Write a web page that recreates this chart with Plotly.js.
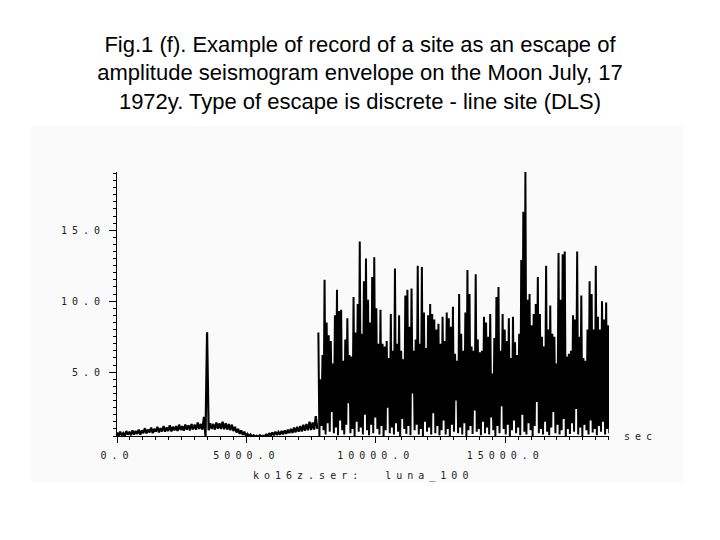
<!DOCTYPE html>
<html>
<head>
<meta charset="utf-8">
<script src="https://cdn.plot.ly/plotly-3.0.1.min.js"></script>
<style>
  html, body { margin: 0; padding: 0; background: #ffffff; }
  #chart { width: 720px; height: 540px; }
  .xtick text, .ytick text, .annotation-text { letter-spacing: 5px; }
</style>
</head>
<body>
<div id="chart"></div>
<script>
// ---- title ----
const titleLines = [
  "Fig.1 (f). Example of record of a site as an escape of",
  "amplitude seismogram envelope on the Moon July, 17",
  "1972y. Type of escape is discrete - line site (DLS)"
];

// ---- axis ticks ----
const xTickVals = [0, 5000, 10000, 15000];
const xTickText = ["0.0", "5000.0", "10000.0", "15000.0"];
const yTickVals = [5, 10, 15];
const yTickText = ["5.0", "10.0", "15.0"];
const xUnitLabel = "sec";
const fileLabel = "ko16z.ser:\u00a0 luna_100";

// ---- quiet part of the record (0 .. ~7700 s), sampled every 60 s,
//      alternating upper / lower edge of the noise band ----
const quietStart = 0;
const quietStep = 60;
const quietHigh = [
  0.75, 0.8, 0.7, 0.85, 0.8, 0.9, 0.85, 0.95, 0.9, 1.05,
  0.95, 1.1, 1.0, 1.15, 1.05, 1.2, 1.1, 1.25, 1.15, 1.2,
  1.3, 1.2, 1.3, 1.25, 1.35, 1.3, 1.45, 1.35, 1.85, 7.8,
  1.4, 1.35, 1.45, 1.4, 1.5, 1.4, 1.35, 1.3, 1.15, 1.0,
  0.9, 0.8, 0.65, 0.6, 0.55, 0.52, 0.55, 0.52, 0.6, 0.7,
  0.75, 0.8, 0.78, 0.85, 0.9, 0.95, 1.0, 1.1, 1.15, 1.2,
  1.3, 1.35, 1.5, 1.45, 1.9
];
const quietLow = [
  0.5, 0.55, 0.5, 0.6, 0.55, 0.6, 0.65, 0.6, 0.7, 0.68,
  0.75, 0.7, 0.8, 0.75, 0.82, 0.8, 0.85, 0.82, 0.9, 0.85,
  0.92, 0.88, 0.95, 0.9, 0.97, 0.95, 1.0, 0.95, 0.5, 0.9,
  1.0, 0.95, 1.02, 1.0, 0.97, 0.95, 0.9, 0.85, 0.75, 0.65,
  0.58, 0.5, 0.47, 0.46, 0.46, 0.45, 0.46, 0.47, 0.5, 0.52,
  0.55, 0.58, 0.6, 0.62, 0.65, 0.7, 0.72, 0.76, 0.8, 0.82,
  0.87, 0.9, 0.92, 0.95, 1.0
];

// ---- active (discrete line) part, from ~7780 s, sampled every 40 s,
//      alternating peak / trough ----
const activeStart = 7780;
const activeStep = 40;
const activeHigh = [
  7.8, 4.5, 6.2, 11.5, 8.5, 7.6, 7.2, 5.6, 9.0, 10.8,
  9.3, 9.4, 5.8, 7.3, 8.8, 6.2, 6.1, 10.3, 7.8, 9.8,
  14.2, 7.7, 11.4, 13.0, 10.1, 8.5, 11.7, 13.1, 9.5, 7.0,
  9.4, 7.0, 6.8, 7.2, 6.0, 9.1, 6.5, 12.3, 7.0, 9.0,
  6.5, 5.9, 10.4, 10.8, 8.2, 10.9, 6.5, 7.3, 12.5, 7.0,
  12.4, 9.2, 6.7, 9.0, 9.8, 9.1, 8.7, 8.0, 8.4, 7.0,
  8.9, 7.2, 9.2, 8.8, 8.2, 9.6, 6.3, 5.8, 10.5, 7.7,
  6.5, 9.2, 12.2, 10.5, 6.8, 6.5, 11.9, 7.3, 6.4, 6.5,
  8.9, 8.5, 7.5, 9.1, 4.9, 7.4, 10.3, 11.0, 6.5, 9.1,
  8.0, 7.2, 8.8, 6.0, 8.9, 7.1, 6.2, 7.7, 12.9, 16.3,
  19.1, 10.1, 10.5, 8.3, 9.1, 9.8, 11.7, 9.1, 7.5, 6.8,
  12.5, 8.0, 9.7, 7.7, 7.5, 5.6, 13.4, 10.1, 13.3, 13.5,
  6.1, 6.3, 6.5, 9.0, 8.7, 13.5, 7.5, 10.4, 6.0, 5.8,
  8.0, 11.4, 10.5, 8.0, 12.5, 8.9, 8.0, 10.0, 8.7, 9.9,
  8.3
];
const activeLow = [
  0.5, 1.2, 0.9, 0.6, 1.4, 0.8, 2.2, 0.7, 1.1, 0.55,
  1.6, 0.9, 0.6, 1.3, 2.8, 0.7, 1.0, 0.5, 1.5, 0.8,
  1.1, 0.6, 2.0, 0.9, 0.55, 1.3, 0.7, 1.8, 1.0, 0.6,
  1.2, 0.5, 0.9, 2.5, 0.7, 1.1, 0.6, 1.4, 0.8, 0.5,
  1.7, 1.0, 0.65, 1.2, 0.55, 3.5, 0.9, 1.3, 0.6, 1.0,
  0.5, 1.5, 0.8, 1.1, 0.6, 2.1, 0.7, 1.2, 0.55, 0.9,
  1.6, 0.6, 1.0, 0.5, 1.3, 0.8, 3.0, 0.7, 1.1, 0.6,
  1.4, 0.5, 0.9, 1.2, 0.65, 2.3, 0.8, 1.0, 0.55, 1.5,
  0.7, 1.1, 0.6, 1.8, 0.9, 0.5, 1.2, 0.7, 2.6, 1.0,
  0.6, 1.3, 0.5, 0.9, 1.6, 0.7, 1.1, 0.55, 2.0, 0.8,
  0.6, 1.4, 0.9, 0.5, 1.2, 2.9, 0.7, 1.0, 0.6, 1.5,
  0.8, 0.55, 1.1, 2.2, 0.7, 1.3, 0.6, 0.9, 1.7, 0.5,
  1.0, 0.65, 1.4, 0.8, 2.4, 0.6, 1.1, 0.5, 1.3, 0.9,
  0.6, 1.6, 0.75, 1.0, 0.55, 1.2, 0.8, 1.5, 0.6, 1.0,
  0.7
];

// build the plotted sequences by interleaving upper / lower edges
function interleave(hi, lo) {
  const out = [];
  const n = Math.min(hi.length, lo.length);
  for (let i = 0; i < n; i++) { out.push(hi[i]); out.push(lo[i]); }
  return out;
}

const traces = [
  {
    type: "scatter", mode: "lines",
    y: interleave(quietHigh, quietLow), x0: quietStart, dx: quietStep,
    line: { color: "#000000", width: 2.2 }, hoverinfo: "skip"
  },
  {
    type: "scatter", mode: "lines",
    y: interleave(activeHigh, activeLow), x0: activeStart, dx: activeStep,
    line: { color: "#000000", width: 2 }, hoverinfo: "skip"
  }
];

const tickFont = { family: "DejaVu Sans Mono", size: 10, color: "#222222" };

const layout = {
  width: 720, height: 540,
  margin: { l: 117, r: 111, t: 172, b: 104, pad: 0 },
  paper_bgcolor: "#ffffff",
  plot_bgcolor: "rgba(0,0,0,0)",
  showlegend: false,
  title: {
    text: titleLines.join("<br>"),
    font: { family: "Liberation Sans, Arial, sans-serif", size: 22, color: "#000000" },
    x: 0.5, xref: "container", xanchor: "center",
    y: 0.904, yref: "container", yanchor: "top"
  },
  xaxis: {
    range: [0, 19010],
    showgrid: false, zeroline: false,
    showline: true, linecolor: "#000000", linewidth: 1,
    ticks: "outside", ticklen: 6, tickwidth: 1, tickcolor: "#000000",
    tickmode: "array", tickvals: xTickVals, ticktext: xTickText,
    ticklabelstandoff: 4,
    tickfont: tickFont,
    minor: { ticks: "outside", ticklen: 3, tickwidth: 1, tickcolor: "#000000", dtick: 500, tick0: 0, showgrid: false }
  },
  yaxis: {
    range: [0.5, 19.1],
    showgrid: false, zeroline: false,
    showline: true, linecolor: "#000000", linewidth: 1,
    ticks: "outside", ticklen: 7, tickwidth: 1, tickcolor: "#000000",
    tickmode: "array", tickvals: yTickVals, ticktext: yTickText,
    ticklabelstandoff: 2,
    tickfont: tickFont,
    minor: { ticks: "outside", ticklen: 3, tickwidth: 1, tickcolor: "#000000", dtick: 0.5, tick0: 0, showgrid: false }
  },
  shapes: [
    {
      type: "rect", xref: "paper", yref: "paper",
      x0: -0.1748, x1: 1.1504, y0: -0.1742, y1: 1.1742,
      fillcolor: "#fafafa", line: { width: 0 }, layer: "below"
    }
  ],
  annotations: [
    {
      text: xUnitLabel, xref: "paper", yref: "paper",
      x: 1.026, y: 0, xanchor: "left", yanchor: "middle",
      showarrow: false, font: tickFont
    },
    {
      text: fileLabel, xref: "paper", yref: "paper",
      x: 0.5, y: -0.152, xanchor: "center", yanchor: "middle",
      showarrow: false, font: tickFont
    }
  ]
};

Plotly.newPlot("chart", traces, layout, { staticPlot: true, displayModeBar: false });
</script>
</body>
</html>
